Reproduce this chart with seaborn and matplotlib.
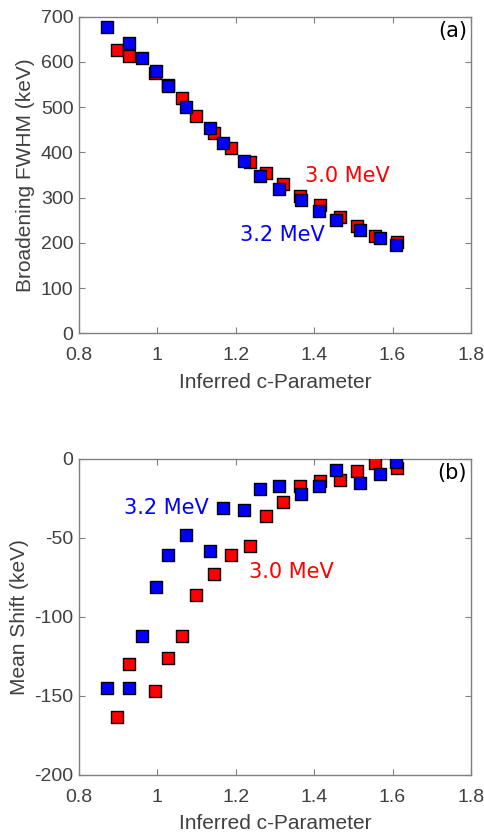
import matplotlib
matplotlib.use("Agg")
import matplotlib.pyplot as plt
import seaborn as sns
import pandas as pd

# ---- data ----
c_blue = [0.871, 0.927, 0.961, 0.996, 1.028, 1.073, 1.135, 1.168, 1.222, 1.263,
          1.311, 1.367, 1.413, 1.456, 1.518, 1.567, 1.608]
c_red = [0.896, 0.927, 0.995, 1.028, 1.063, 1.099, 1.144, 1.189, 1.236, 1.277,
         1.321, 1.363, 1.415, 1.465, 1.509, 1.554, 1.611]

fwhm_blue = [677, 641, 608, 579, 547, 501, 453, 420, 382, 348, 320, 295, 270, 251, 229, 210, 195]
fwhm_red = [626, 613, 575, 548, 520, 481, 442, 409, 379, 354, 330, 304, 284, 258, 237, 216, 203]

shift_blue = [-145, -145, -112, -81, -61, -48, -58, -31, -32, -19, -17, -22, -17, -7, -15, -9.5, -2]
shift_red = [-163, -130, -147, -126, -112, -86, -73, -61, -55, -36, -27, -17, -14, -13, -7.6, -2.3, -5.9]

series_labels = ["3.0 MeV", "3.2 MeV"]
x_ticks = [0.8, 1.0, 1.2, 1.4, 1.6, 1.8]
x_ticklabels = ["0.8", "1", "1.2", "1.4", "1.6", "1.8"]
top_yticks = [0, 100, 200, 300, 400, 500, 600, 700]
bot_yticks = [-200, -150, -100, -50, 0]

sns.set_theme(style="white")
plt.rcParams['font.family'] = ['Liberation Sans', 'DejaVu Sans']

RED = "#ff0000"
BLUE = "#0000ff"
SPINE = "#808080"
TXT = "#404040"

fig = plt.figure(figsize=(4.85, 8.35), dpi=100)
ax1 = fig.add_axes([0.163, 0.6008, 0.808, 0.3792])
ax2 = fig.add_axes([0.163, 0.0719, 0.808, 0.3784])

df_top_r = pd.DataFrame({"c": c_red, "v": fwhm_red})
df_top_b = pd.DataFrame({"c": c_blue, "v": fwhm_blue})
df_bot_r = pd.DataFrame({"c": c_red, "v": shift_red})
df_bot_b = pd.DataFrame({"c": c_blue, "v": shift_blue})

kw = dict(marker="s", s=72, edgecolor="black", linewidth=1.0, zorder=3)
sns.scatterplot(data=df_top_r, x="c", y="v", color=RED, ax=ax1, **kw)
sns.scatterplot(data=df_top_b, x="c", y="v", color=BLUE, ax=ax1, **kw)
sns.scatterplot(data=df_bot_r, x="c", y="v", color=RED, ax=ax2, **kw)
sns.scatterplot(data=df_bot_b, x="c", y="v", color=BLUE, ax=ax2, **kw)

for ax, yt, ylim, ylab in [(ax1, top_yticks, (0, 700), "Broadening FWHM (keV)"),
                           (ax2, bot_yticks, (-200, 0), "Mean Shift (keV)")]:
    ax.set_xlim(0.8, 1.8)
    ax.set_ylim(*ylim)
    ax.set_xticks(x_ticks)
    ax.set_xticklabels(x_ticklabels)
    ax.set_yticks(yt)
    ax.set_yticklabels([str(v) for v in yt])
    ax.set_xlabel("Inferred c-Parameter", fontsize=15, color=TXT, labelpad=6)
    ax.set_ylabel(ylab, fontsize=15, color=TXT, labelpad=4)
    for sp in ax.spines.values():
        sp.set_visible(True)
        sp.set_color(SPINE)
        sp.set_linewidth(1.0)
    ax.tick_params(axis="both", which="both", direction="in", length=4, width=0.8,
                   color=SPINE, labelcolor=TXT, labelsize=14,
                   top=True, right=True, bottom=True, left=True, pad=4)
    ax.tick_params(axis="x", pad=10)
    ax.grid(False)

tfont = ['DejaVu Sans']
ax1.text(1.377, 348, series_labels[0], color=RED, fontsize=15, family=tfont, ha="left", va="center")
ax1.text(1.211, 217, series_labels[1], color=BLUE, fontsize=15, family=tfont, ha="left", va="center")
ax2.text(0.915, -31, series_labels[1], color=BLUE, fontsize=15, family=tfont, ha="left", va="center")
ax2.text(1.234, -71.3, series_labels[0], color=RED, fontsize=15, family=tfont, ha="left", va="center")

ax1.text(0.99, 0.955, "(a)", transform=ax1.transAxes, fontsize=15, family=tfont,
         ha="right", va="center", color="black")
ax2.text(0.99, 0.955, "(b)", transform=ax2.transAxes, fontsize=15, family=tfont,
         ha="right", va="center", color="black")

fig.savefig("out.png", dpi=100)
